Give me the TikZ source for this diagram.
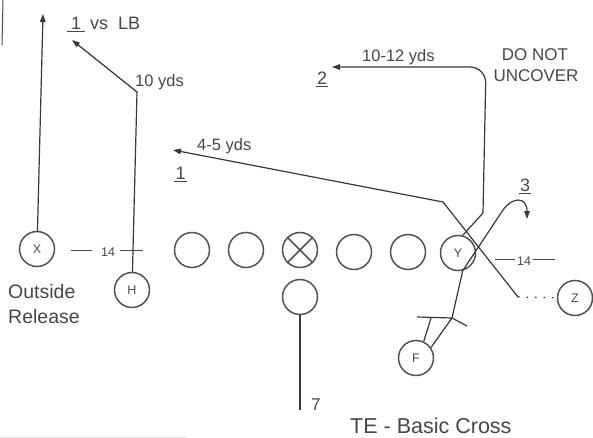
\documentclass[tikz,border=0pt]{standalone}
\usepackage{fontspec}
\setmainfont{Liberation Sans}
\usetikzlibrary{arrows.meta}
\newcommand{\fs}[1]{\fontsize{#1}{#1}\selectfont}
\begin{document}
\begin{tikzpicture}[x=1pt,y=-1pt,
  player/.style={circle, draw=black!68, line width=1.5pt, minimum size=35pt, inner sep=0pt, font=\fs{12.5}, text=black!70},
  route/.style={draw=black!78, line width=1.2pt},
  arr/.style={route, -{Triangle[length=8pt,width=5.5pt]}},
  lbl/.style={text=black!72, inner sep=0pt, anchor=base west},
  yard/.style={lbl, font=\fs{16.5}},
  num/.style={lbl, font=\fs{18}}]
\useasboundingbox (0,0) rectangle (593,438);
\fill[white] (0,0) rectangle (593,438);
% scan edges
\draw[black!70, line width=1pt] (3,0) -- (2,45);
\draw[black!12, line width=1pt] (0,437) -- (187,437);
% players
\node[player] (X) at (37,249) {X};
\node[player] (H) at (132,290) {H};
\node[player] (L1) at (192,250) {};
\node[player] (L2) at (246,250) {};
\node[player] (C) at (300,250) {};
\draw[draw=black!68, line width=1.5pt] (C.45) -- (C.225) (C.135) -- (C.315);
\node[player] (L4) at (354,252) {};
\node[player] (L5) at (408,252) {};
\node[player] (Y) at (458,253) {Y};
\node[player] (Q) at (300,297) {};
\node[player] (Z) at (575,298) {Z};
\node[player] (F) at (416,358) {F};
% coordinates
\coordinate (xend) at (43,14);
\coordinate (hb) at (137,92);
\coordinate (hend) at (72,40);
\coordinate (zs) at (518,297);
\coordinate (zb) at (443,202);
\coordinate (ze) at (173,150);
\coordinate (yb1) at (483,213);
\coordinate (yc) at (486,67);
\coordinate (ye) at (332,67);
\coordinate (fl) at (431,318);
\coordinate (fbl) at (417,317);
\coordinate (fb2) at (452,318);
\coordinate (fbr) at (467,326);
\coordinate (r3a) at (503,210);
\coordinate (r3e) at (527,219);
\coordinate (qend) at (300,410);
% routes
\draw[arr] (X) -- (xend);
\draw[arr] (H) -- (hb) -- (hend);
\draw[arr] (zs) -- (zb) -- (ze);
\draw[route, dash pattern=on 1.5pt off 7pt] (zs) -- (Z);
\draw[arr] (Y.75) -- (yb1) {[rounded corners=16pt] -- (yc) -- (ye)};
\draw[route] (F.65) -- (fl);
\draw[route] (F.35) -- (fb2);
\draw[route] (fbl) -- (fb2) -- (fbr);
\draw[arr] (fb2) -- (Y.285) -- (r3a) .. controls (512,197) and (527,196) .. (r3e);
\draw[route] (Q) -- (qend);
% labels
\node[num] (t1lb) at (67,30) {\underline{\hspace{4pt}1\hspace{4pt}} vs\ \ LB};
\node[yard] (t10) at (135,87) {10 yds};
\node[yard] (t45) at (197,151) {4-5 yds};
\node[num] (t1) at (174,180) {\underline{\hspace{1.5pt}1\hspace{1.5pt}}};
\node[yard] (t1012) at (362,62) {10-12 yds};
\node[num] (t2) at (316,85) {\underline{\hspace{1pt}2\hspace{1pt}}};
\node[lbl, font=\fs{17}, anchor=base] (tdo) at (535,61) {DO NOT};
\node[lbl, font=\fs{17}, anchor=base] (tun) at (536,82) {UNCOVER};
\node[num] (t3) at (519,192) {\underline{\hspace{1pt}3\hspace{1pt}}};
\node[lbl, font=\fs{12.5}] (d14a) at (71,256) {\rule[5.5pt]{21pt}{0.9pt}\hspace{9pt}14\hspace{5pt}\rule[5.5pt]{23pt}{0.9pt}};
\node[lbl, font=\fs{12.5}] (d14b) at (495,265) {\rule[5pt]{20pt}{0.9pt}\hspace{2pt}14\hspace{2pt}\rule[5pt]{22pt}{0.9pt}};
\node[lbl, font=\fs{19.5}] (tout) at (8,298) {Outside};
\node[lbl, font=\fs{19.5}] (trel) at (8,323) {Release};
\node[lbl, font=\fs{17}] (t7) at (311,410) {7};
\node[lbl, font=\fs{21.5}] (tte) at (350,433) {TE - Basic Cross};
\end{tikzpicture}
\end{document}
